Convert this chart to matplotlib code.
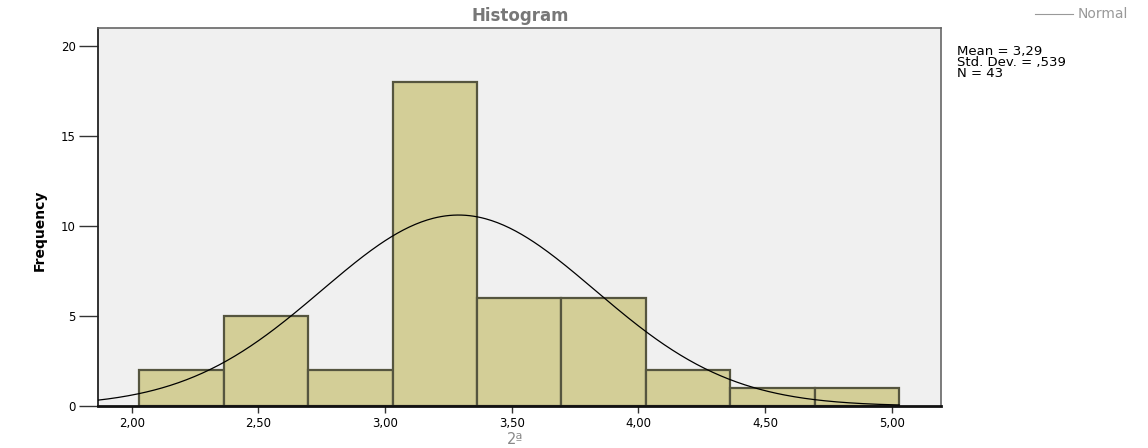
import numpy as np
import matplotlib
matplotlib.use("Agg")
import matplotlib.pyplot as plt

# data
bin_start = 2.03
bin_width = 1/3
counts = [2, 5, 2, 18, 6, 6, 2, 1, 1]
mean = 3.29
std = 0.539
n = 43
xticks = [2.0, 2.5, 3.0, 3.5, 4.0, 4.5, 5.0]
xtick_labels = ["2,00", "2,50", "3,00", "3,50", "4,00", "4,50", "5,00"]
yticks = [0, 5, 10, 15, 20]
ytick_labels = ["0", "5", "10", "15", "20"]

W, H = 1148, 448
fig = plt.figure(figsize=(W/100, H/100), dpi=100)
L, R, T, B = 98, 941, 28, 406
ax = fig.add_axes([L/W, 1-B/H, (R-L)/W, (B-T)/H])
ax.set_facecolor("#F0F0F0")

edges = [bin_start + i*bin_width for i in range(len(counts))]
ax.bar(edges, counts, width=bin_width, align="edge", color="#D3CE97",
       edgecolor="#55553F", linewidth=1.6, zorder=2)

x0, x1 = 1.867, 5.195
xs = np.linspace(x0, bin_start + len(counts)*bin_width, 400)
ys = n*bin_width/(std*np.sqrt(2*np.pi))*np.exp(-0.5*((xs-mean)/std)**2)
ax.plot(xs, ys, color="black", linewidth=0.9, zorder=3)

ax.set_xlim(x0, x1)
ax.set_ylim(0, 21.0)
ax.set_xticks(xticks)
ax.set_xticklabels(xtick_labels)
ax.set_yticks(yticks)
ax.set_yticklabels(ytick_labels)
ax.tick_params(axis="y", length=14, width=1.0, color="#333333", labelsize=8.5, pad=2)
ax.tick_params(axis="x", length=5, width=1.0, color="#333333", labelsize=8.5, pad=3)

for s in ["top", "right"]:
    ax.spines[s].set_color("#666666")
    ax.spines[s].set_linewidth(1.2)
ax.spines["left"].set_color("#222222")
ax.spines["left"].set_linewidth(1.3)
ax.spines["bottom"].set_color("#111111")
ax.spines["bottom"].set_linewidth(2.0)

fig.text(520/W, 1-16/H, "Histogram", ha="center", va="center", fontsize=12,
         color="#777777", fontweight="bold")
fig.add_artist(plt.Line2D([1035/W, 1073/W], [1-14/H, 1-14/H], color="#999999", linewidth=0.8))
fig.text(1078/W, 1-14/H, "Normal", ha="left", va="center", fontsize=10, color="#999999")
fig.text(957/W, 1-45/H, "Mean = 3,29\nStd. Dev. = ,539\nN = 43", ha="left", va="top",
         fontsize=9.5, color="black", linespacing=0.78)
fig.text(40/W, 1-230/H, "Frequency", rotation=90, ha="center", va="center",
         fontsize=10, fontweight="bold", family="Liberation Sans Narrow")
fig.text(515/W, 1-439/H, "2ª", ha="center", va="center", fontsize=10.5, color="#888888")

fig.savefig("out.png", dpi=100)
